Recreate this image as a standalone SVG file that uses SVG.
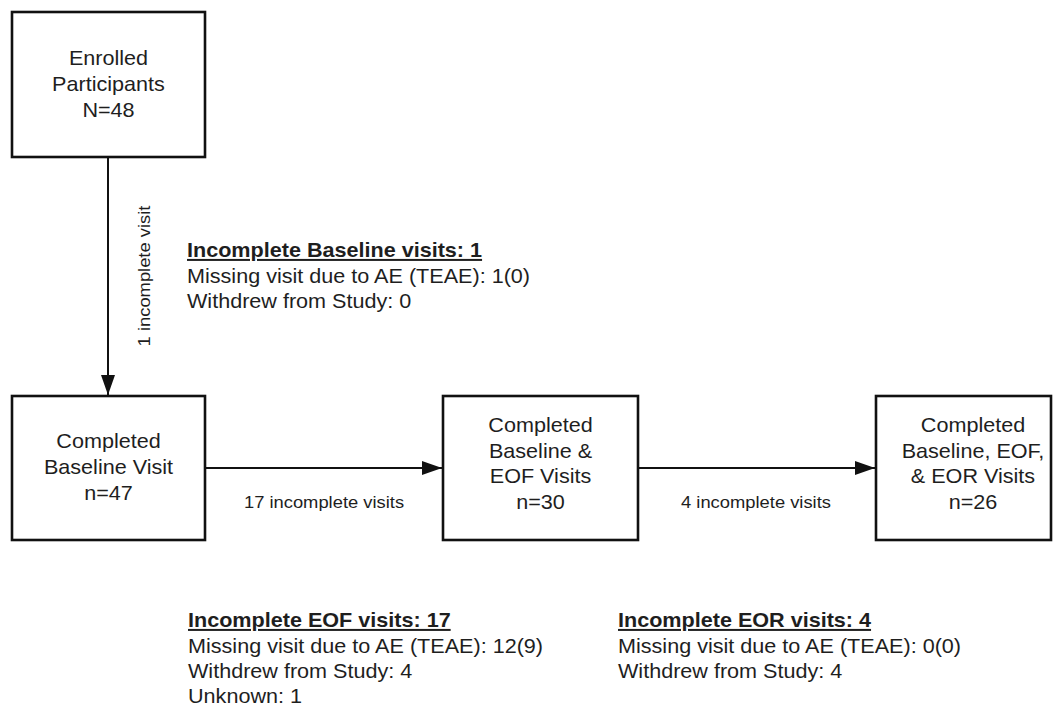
<svg xmlns="http://www.w3.org/2000/svg" width="1053" height="707" viewBox="0 0 1053 707">
<style>
text { font-family: "Liberation Sans", Arial, sans-serif; fill: #1e1e1e; }
.box { fill: #ffffff; stroke: #111; stroke-width: 2.6; }
.bt { font-size: 20px; text-anchor: middle; }
.lbl { font-size: 17px; text-anchor: middle; }
.nt { font-size: 20px; }
.hd { font-size: 20px; font-weight: bold; text-decoration: underline; }
.edge { stroke: #111; stroke-width: 2; fill: none; marker-end: url(#arr); }
</style>
<defs>
<marker id="arr" markerWidth="20" markerHeight="14" refX="20" refY="7" orient="auto" markerUnits="userSpaceOnUse">
<path d="M0,0 L20,7 L0,14 Z" fill="#111"/>
</marker>
</defs>
<rect width="1053" height="707" fill="#ffffff"/>
<g id="connectors">
<line class="edge" x1="108" y1="157" x2="108" y2="395"/>
<line class="edge" x1="205" y1="468" x2="442" y2="468"/>
<line class="edge" x1="638" y1="468" x2="875" y2="468"/>
<text class="lbl" transform="translate(150,276) rotate(-90) scale(1.08,1)">1 incomplete visit</text>
<text class="lbl" transform="translate(324,508) scale(1.08,1)">17 incomplete visits</text>
<text class="lbl" transform="translate(756,508) scale(1.08,1)">4 incomplete visits</text>
</g>
<g id="enrolled">
<rect class="box" x="12" y="12" width="193" height="145"/>
<text class="bt" transform="translate(108.5,65) scale(1.08,1)">Enrolled</text>
<text class="bt" transform="translate(108.5,91) scale(1.08,1)">Participants</text>
<text class="bt" transform="translate(108.5,117) scale(1.08,1)">N=48</text>
</g>
<g id="baseline">
<rect class="box" x="12" y="396" width="193" height="144"/>
<text class="bt" transform="translate(108.5,448) scale(1.08,1)">Completed</text>
<text class="bt" transform="translate(108.5,474) scale(1.08,1)">Baseline Visit</text>
<text class="bt" transform="translate(108.5,500) scale(1.08,1)">n=47</text>
</g>
<g id="eof">
<rect class="box" x="443" y="396" width="195" height="144"/>
<text class="bt" transform="translate(540.5,432) scale(1.08,1)">Completed</text>
<text class="bt" transform="translate(540.5,458) scale(1.08,1)">Baseline &amp;</text>
<text class="bt" transform="translate(540.5,483) scale(1.08,1)">EOF Visits</text>
<text class="bt" transform="translate(540.5,509) scale(1.08,1)">n=30</text>
</g>
<g id="eor">
<rect class="box" x="876" y="396" width="175" height="144"/>
<text class="bt" transform="translate(973,432) scale(1.08,1)">Completed</text>
<text class="bt" transform="translate(973,458) scale(1.08,1)">Baseline, EOF,</text>
<text class="bt" transform="translate(973,483) scale(1.08,1)">&amp; EOR Visits</text>
<text class="bt" transform="translate(973,509) scale(1.08,1)">n=26</text>
</g>
<g id="note-baseline">
<text class="hd" transform="translate(187,257) scale(1.08,1)">Incomplete Baseline visits: 1</text>
<text class="nt" transform="translate(187,283) scale(1.08,1)">Missing visit due to AE (TEAE): 1(0)</text>
<text class="nt" transform="translate(187,308) scale(1.08,1)">Withdrew from Study: 0</text>
</g>
<g id="note-eof">
<text class="hd" transform="translate(188,627) scale(1.08,1)">Incomplete EOF visits: 17</text>
<text class="nt" transform="translate(188,653) scale(1.08,1)">Missing visit due to AE (TEAE): 12(9)</text>
<text class="nt" transform="translate(188,678) scale(1.08,1)">Withdrew from Study: 4</text>
<text class="nt" transform="translate(188,703) scale(1.08,1)">Unknown: 1</text>
</g>
<g id="note-eor">
<text class="hd" transform="translate(618,627) scale(1.08,1)">Incomplete EOR visits: 4</text>
<text class="nt" transform="translate(618,653) scale(1.08,1)">Missing visit due to AE (TEAE): 0(0)</text>
<text class="nt" transform="translate(618,678) scale(1.08,1)">Withdrew from Study: 4</text>
</g>
</svg>
